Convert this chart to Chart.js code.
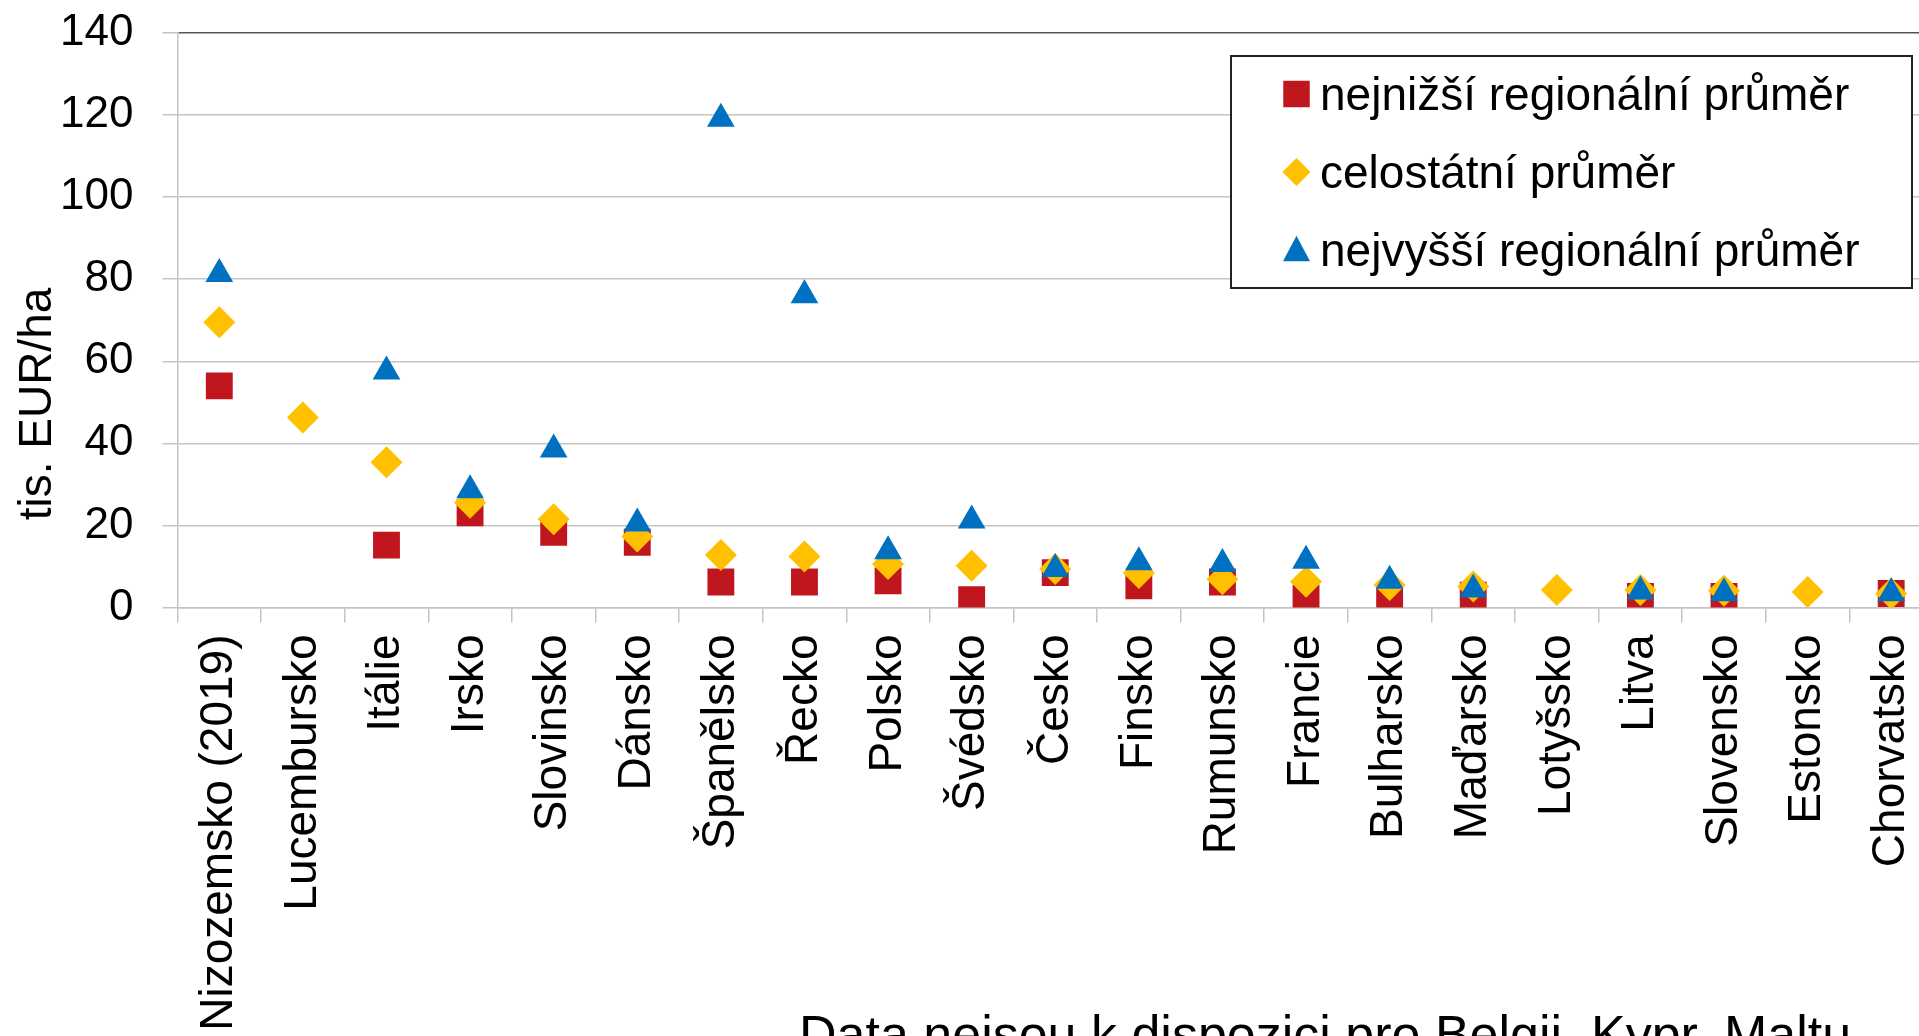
<!DOCTYPE html>
<html><head><meta charset="utf-8">
<script src="https://cdn.jsdelivr.net/npm/chart.js@4.4.0/dist/chart.umd.min.js"></script>
<style>
html,body{margin:0;padding:0;overflow:hidden;background:#fff;width:1919px;height:1036px;}
#wrap{position:absolute;left:0;top:0;width:1960px;height:1036px;}
</style></head><body>
<div id="wrap"><canvas id="c"></canvas></div>
<script>
const categories = ['Nizozemsko (2019)','Lucembursko','Itálie','Irsko','Slovinsko','Dánsko','Španělsko','Řecko','Polsko','Švédsko','Česko','Finsko','Rumunsko','Francie','Bulharsko','Maďarsko','Lotyšsko','Litva','Slovensko','Estonsko','Chorvatsko'];
const lowestRegional  = [54.0, null, 15.2, 23.1, 18.3, 15.9, 6.2, 6.2, 6.5, 1.9, 8.5, 5.3, 6.2, 2.3, 1.8, 3.0, null, 2.7, 2.7, null, 3.4];
const nationalAverage = [69.5, 46.3, 35.4, 25.5, 21.5, 17.3, 12.8, 12.4, 10.6, 10.2, 9.4, 8.4, 6.9, 6.3, 5.5, 5.1, 4.25, 4.25, 4.1, 3.8, 3.4];
const highestRegional = [81.3, null, 57.5, 28.6, 38.5, 20.5, 119.1, 76.1, 13.7, 21.2, 9.4, 11.0, 10.6, 11.4, 6.5, 4.4, null, 3.9, 3.5, null, 3.5];
const seriesNames = ['nejnižší regionální průměr','celostátní průměr','nejvyšší regionální průměr'];
const yTicks = [0, 20, 40, 60, 80, 100, 120, 140];
const yTitle = 'tis. EUR/ha';
const footnote = 'Data nejsou k dispozici pro Belgii, Kypr, Maltu';

const FONT = "'Liberation Sans', Arial, sans-serif";
const GRID = '#c4c4c4';

function drawMarker(ctx, style, x, y, s) {
  ctx.beginPath();
  if (style === 'rect') {
    ctx.rect(x - s / 2, y - s / 2, s, s);
  } else if (style === 'rectRot') {
    const h = s / 2;
    ctx.moveTo(x, y - h); ctx.lineTo(x + h, y); ctx.lineTo(x, y + h); ctx.lineTo(x - h, y); ctx.closePath();
  } else {
    const h = s * 0.9;
    ctx.moveTo(x, y - h / 2 - 1); ctx.lineTo(x + s / 2, y + h / 2); ctx.lineTo(x - s / 2, y + h / 2); ctx.closePath();
  }
  ctx.fill();
}

const extras = {
  id: 'extras',
  afterDraw(chart) {
    const ctx = chart.ctx;
    ctx.save();
    const bx = 1231, by = 56, bw = 681, bh = 232;
    ctx.fillStyle = '#fff';
    ctx.fillRect(bx, by, bw, bh);
    ctx.strokeStyle = '#222';
    ctx.lineWidth = 2;
    ctx.strokeRect(bx, by, bw, bh);
    const rowsMarker = [94, 172, 249];
    const rowsText = [109.5, 188, 265.5];
    const sizes = [26.5, 28, 27];
    chart.data.datasets.forEach((ds, i) => {
      ctx.fillStyle = ds.pointBackgroundColor;
      drawMarker(ctx, ds.pointStyle, 1296.5, rowsMarker[i], sizes[i]);
      ctx.fillStyle = '#000';
      ctx.font = '46px ' + FONT;
      ctx.textAlign = 'left';
      ctx.textBaseline = 'alphabetic';
      ctx.fillText(ds.label, 1320, rowsText[i]);
    });
    ctx.save();
    ctx.translate(51, 404);
    ctx.rotate(-Math.PI / 2);
    ctx.font = '46px ' + FONT;
    ctx.textAlign = 'center';
    ctx.textBaseline = 'alphabetic';
    ctx.fillStyle = '#000';
    ctx.fillText(yTitle, 0, 0);
    ctx.restore();
    ctx.font = '52px ' + FONT;
    ctx.textAlign = 'left';
    ctx.textBaseline = 'alphabetic';
    ctx.fillStyle = '#000';
    ctx.fillText(footnote, 799, 1052);
    ctx.restore();
  }
};

new Chart(document.getElementById('c'), {
  type: 'line',
  data: {
    labels: categories,
    datasets: [
      { label: seriesNames[0], data: lowestRegional, showLine: false, pointStyle: 'rect', pointRadius: 19, pointHoverRadius: 19,
        pointBackgroundColor: '#C0161E', backgroundColor: '#C0161E', borderColor: '#C0161E', pointBorderWidth: 0, order: 3 },
      { label: seriesNames[1], data: nationalAverage, showLine: false, pointStyle: 'rectRot', pointRadius: 16, pointHoverRadius: 16,
        pointBackgroundColor: '#FFC000', backgroundColor: '#FFC000', borderColor: '#FFC000', pointBorderWidth: 0, order: 2 },
      { label: seriesNames[2], data: highestRegional, showLine: false, pointStyle: 'triangle', pointRadius: 16, pointHoverRadius: 16,
        pointBackgroundColor: '#0070C0', backgroundColor: '#0070C0', borderColor: '#0070C0', pointBorderWidth: 0, order: 1 }
    ]
  },
  options: {
    responsive: true,
    maintainAspectRatio: false,
    animation: false,
    events: [],
    layout: { padding: { top: 33, right: 27, left: 0, bottom: 0 } },
    plugins: { legend: { display: false }, tooltip: { enabled: false } },
    scales: {
      x: {
        type: 'category',
        offset: true,
        grid: { display: true, drawOnChartArea: false, drawTicks: true, tickLength: 15, offset: true, color: GRID, lineWidth: 1.5 },
        border: { color: GRID, width: 1.5 },
        ticks: { autoSkip: false, maxRotation: 90, minRotation: 90, color: '#000', font: { family: FONT, size: 46 }, padding: 12 },
        afterFit: s => { s.height = 1036 - 607.5; s.paddingLeft = 0; s.paddingRight = 0; }
      },
      y: {
        min: 0, max: 140,
        afterBuildTicks: s => { s.ticks = yTicks.map(v => ({ value: v })); },
        ticks: { color: '#000', font: { family: FONT, size: 44 }, padding: 29 },
        grid: { color: c => (c.tick && c.tick.value === 140) ? '#555' : GRID, lineWidth: 1.5, tickLength: 15, tickColor: GRID, drawTicks: true },
        border: { color: GRID, width: 1.5 },
        afterFit: s => { s.width = 177.5; s.paddingTop = 0; s.paddingBottom = 0; }
      }
    }
  },
  plugins: [extras]
});
</script>
</body></html>
